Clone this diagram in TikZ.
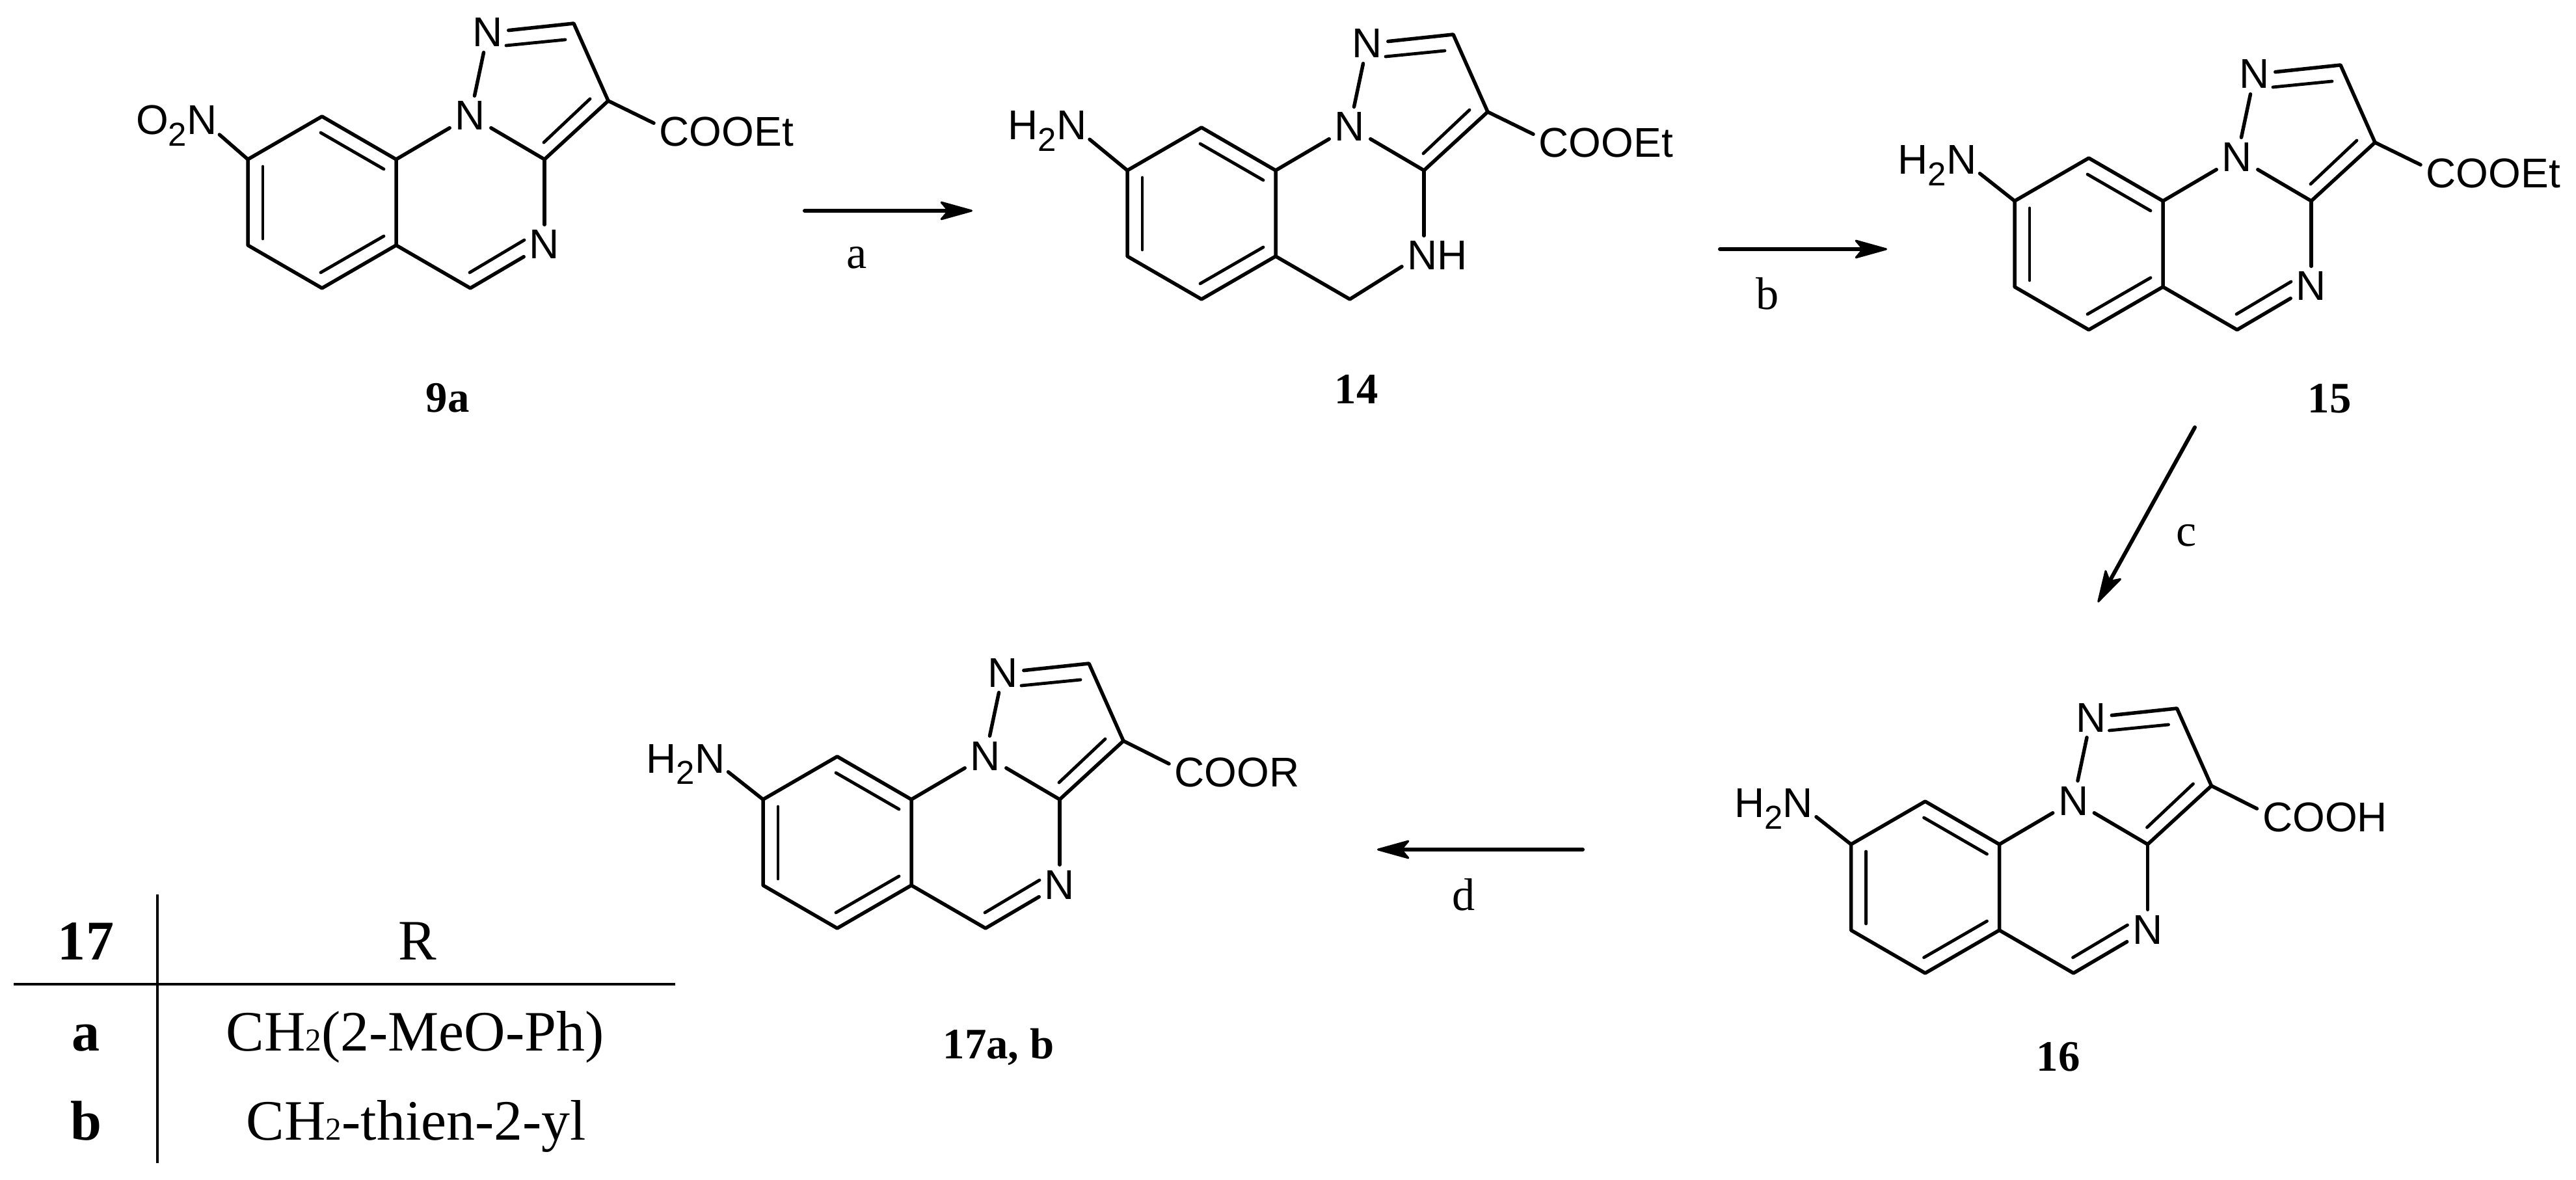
\documentclass[tikz,border=0pt]{standalone}
\usepackage{fontspec}
\setmainfont{Liberation Serif}
\newfontfamily\atomfont{Liberation Sans}
\usetikzlibrary{arrows.meta}

\tikzset{
  bond/.style={line width=.055cm, line cap=round, line join=round},
  inbond/.style={line width=.048cm, line cap=round},
  react/.style={line width=.06cm, line cap=round, -{Stealth[length=.56cm,width=.31cm,inset=.13cm,round,line width=.03cm]}},
  rule/.style={line width=.048cm},
  atom/.style={inner sep=.08cm, font=\atomfont\fontsize{18.2}{20}\selectfont},
  caption/.style={anchor=base, inner sep=0pt, font=\bfseries\fontsize{19}{22}\selectfont},
  step label/.style={anchor=base, inner sep=0pt, font=\fontsize{20}{22}\selectfont},
  cell/.style={anchor=base, inner sep=0pt, font=\fontsize{25}{28}\selectfont},
  head/.style={cell, font=\bfseries\fontsize{24.5}{28}\selectfont},
}

\newcommand{\lowtwo}{\raisebox{-5pt}{\fontsize{14.5}{14.5}\selectfont 2}}
\newcommand{\smalltwo}{{\fontsize{14}{14}\selectfont 2}}

% benzene and pyrazole rings, #1 amine text, #2 #3 its N, #4 acid text
\newcommand{\corerings}[4]{
  \coordinate (C8a) at (0,0);
  \coordinate (C4a) at (0,1.32);
  \coordinate (C5) at (-1.14,1.98);
  \coordinate (C6) at (-2.28,1.32);
  \coordinate (C7) at (-2.28,0);
  \coordinate (C9) at (-1.14,-.66);
  \coordinate (C3a) at (2.28,0);
  \coordinate (C3) at (3.26,-.9);
  \coordinate (C2) at (2.73,-2.09);
  \coordinate (C4) at (1.14,1.98);
  \coordinate (aimN) at (#2,#3);
  \node [atom] (N10) at (1.14,-.67) {N};
  \node [atom] (N1) at (1.41,-1.95) {N};
  \node [atom, anchor=base east, xshift=.31cm, yshift=-.23cm] (amine) at (aimN) {#1};
  \node [atom, anchor=base west] (acid) at (3.96,-.2) {#4};

  \draw [bond] (C7) -- (C9) -- (C8a) -- (C4a) -- (C5) -- (C6) -- cycle;
  \draw [bond] (C8a) -- (N10);
  \draw [bond] (N10) -- (C3a) -- (C3) -- (C2) -- (N1);
  \draw [bond] (N1) -- (N10);
  \draw [bond, shorten >=.35cm] (C7) -- (aimN);
  \draw [bond] (C3) -- (acid.173);

  \draw [inbond] (-1.16,-.41) coordinate (in1) -- (-.19,.15) coordinate (in2);
  \draw [inbond] (-2.05,.11) coordinate (in3) -- (-2.05,1.22) coordinate (in4);
  \draw [inbond] (-.19,1.18) coordinate (in5) -- (-1.16,1.74) coordinate (in6);
  \draw [inbond] (2.27,-.26) coordinate (in7) -- (2.98,-.93) coordinate (in8);
  \draw [inbond] (1.69,-1.75) coordinate (in9) -- (2.6,-1.84) coordinate (in10);
}

% the C=N of the middle ring
\newcommand{\iminepart}{
  \node [atom] (N4) at (2.28,1.31) {N};
  \draw [bond] (C3a) -- (N4);
  \draw [bond] (C4a) -- (C4) -- (N4);
  \draw [inbond] (1.13,1.74) coordinate (in11) -- (1.97,1.24) coordinate (in12);
}

\begin{document}
\begin{tikzpicture}[x=1cm, y=-1cm]
\useasboundingbox (0,0) rectangle (39.6,18.14);

\begin{scope}[shift={(6.09,2.45)}, name prefix=nitro-]
  \corerings{O\lowtwo N}{-2.98}{-.61}{COOEt}
  \iminepart
\end{scope}

\begin{scope}[shift={(19.61,2.62)}, name prefix=dihydro-]
  \corerings{H\lowtwo N}{-3.13}{-.7}{COOEt}
  \node [atom, anchor=west] (NH) at (1.94,1.31) {NH};
  \draw [bond] (C3a) -- (NH.north -| C3a);
  \draw [bond] (C4a) -- (C4) -- (NH.197);
\end{scope}

\begin{scope}[shift={(33.25,3.09)}, name prefix=amino-]
  \corerings{H\lowtwo N}{-3.09}{-.64}{COOEt}
  \iminepart
\end{scope}

\begin{scope}[shift={(30.735,12.98)}, name prefix=acid-]
  \corerings{H\lowtwo N}{-3.09}{-.64}{COOH}
  \iminepart
\end{scope}

\begin{scope}[shift={(14.01,12.29)}, name prefix=ester-]
  \corerings{H\lowtwo N}{-3.09}{-.64}{COOR}
  \iminepart
\end{scope}

\coordinate (a1) at (12.37,3.24);
\coordinate (a2) at (14.95,3.24);
\coordinate (b1) at (26.44,3.83);
\coordinate (b2) at (29.01,3.83);
\coordinate (c1) at (33.74,6.57);
\coordinate (c2) at (32.25,9.26);
\coordinate (d1) at (24.33,13.06);
\coordinate (d2) at (21.17,13.06);

\draw [react] (a1) -- (a2);
\draw [react] (b1) -- (b2);
\draw [react] (c1) -- (c2);
\draw [react] (d1) -- (d2);

\node [step label] (sa) at (13.17,4.13) {a};
\node [step label] (sb) at (27.17,4.76) {b};
\node [step label] (sc) at (33.61,8.4) {c};
\node [step label] (sd) at (22.5,13.99) {d};

\node [caption] (name9a) at (6.88,6.34) {9a};
\node [caption] (name14) at (20.85,6.21) {14};
\node [caption] (name15) at (35.81,6.35) {15};
\node [caption] (name16) at (31.64,16.46) {16};
\node [caption] (name17) at (15.35,16.27) {17a, b};

% table of R groups
\coordinate (vtop) at (2.42,13.75);
\coordinate (vbot) at (2.42,17.88);
\coordinate (hleft) at (.21,15.13);
\coordinate (hright) at (10.38,15.13);
\draw [rule] (vtop) -- (vbot);
\draw [rule] (hleft) -- (hright);

\node [head] (t17) at (1.32,14.75) {17};
\node [cell] (tR) at (6.42,14.75) {R};
\node [head] (ta) at (1.32,16.15) {a};
\node [cell] (tar) at (6.38,16.15) {CH\smalltwo(2-MeO-Ph)};
\node [head] (tb) at (1.32,17.52) {b};
\node [cell] (tbr) at (6.4,17.52) {CH\smalltwo-thien-2-yl};

\end{tikzpicture}
\end{document}
